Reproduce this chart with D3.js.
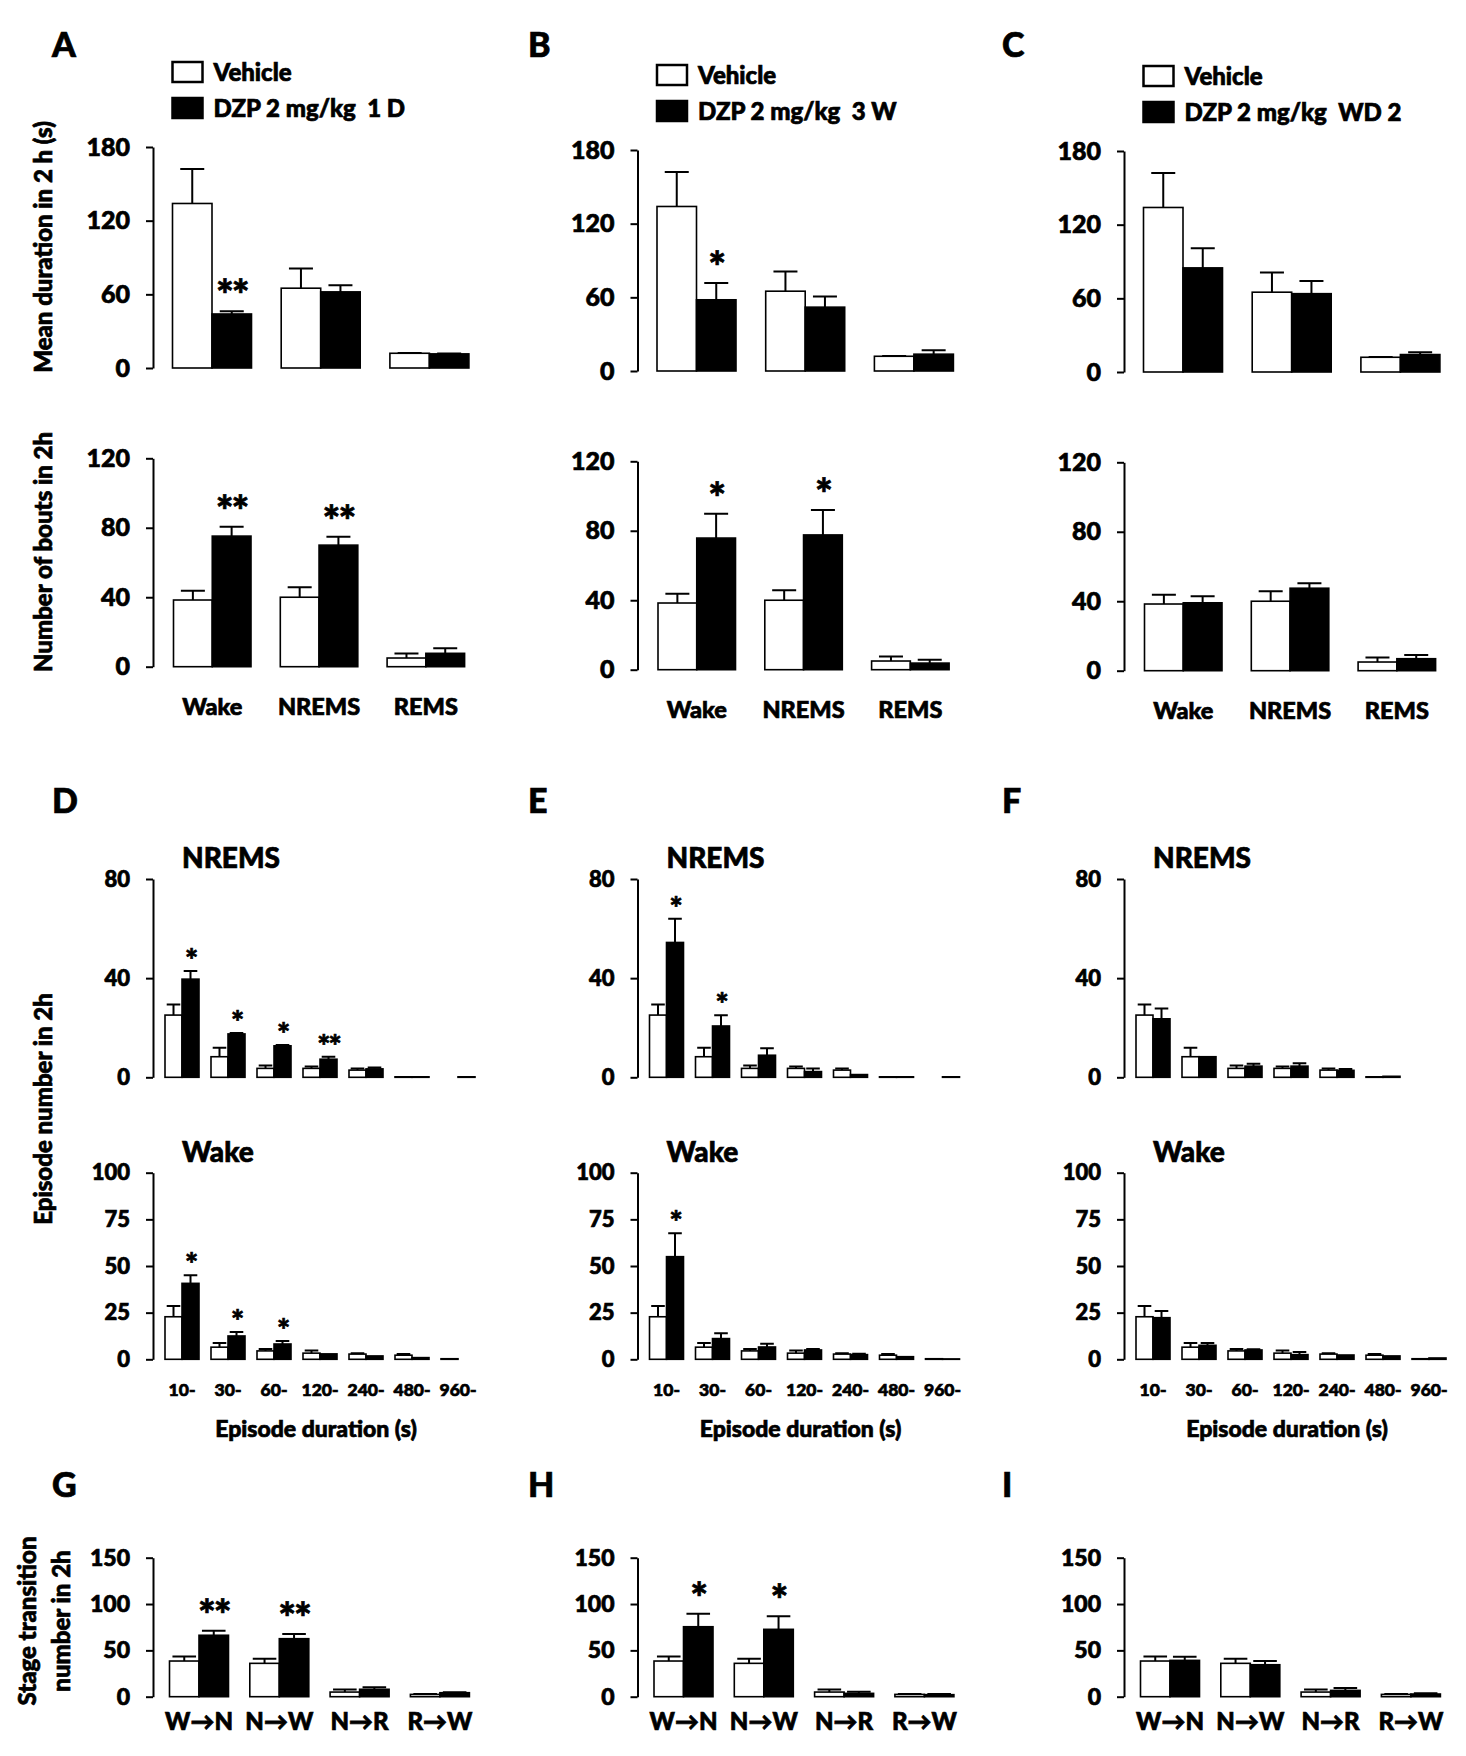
<!DOCTYPE html>
<html>
<head>
<meta charset="utf-8">
<script src="https://cdn.jsdelivr.net/npm/d3@7"></script>
<style>
  body { margin: 0; background: #fff; }
  text { font-family: Lato, "Open Sans", sans-serif; font-weight: 900; stroke: #000; stroke-width: 0.7px; }
</style>
</head>
<body>
<div id="chart"></div>
<script>
// Categories
const stages = ["Wake", "NREMS", "REMS"];
const durBins = ["10-", "30-", "60-", "120-", "240-", "480-", "960-"];
const transitions = ["W→N", "N→W", "N→R", "R→W"];
const groupNames = ["Vehicle", "DZP"];
const dzpLabels = ["DZP 2 mg/kg  1 D", "DZP 2 mg/kg  3 W", "DZP 2 mg/kg  WD 2"];
const panelLetters = [["A", "B", "C"], ["D", "E", "F"], ["G", "H", "I"]];

// Mean duration in 2 h (s)
const durVeh = [134, 65, 12], durVehSem = [28, 16, 0.3];
const durDzp1D = [44, 62, 11.5], durDzp1DSem = [2.3, 5.5, 0.3];
const durDzp3W = [58, 52, 13.7], durDzp3WSem = [13.6, 8.7, 3.3];
const durDzpWD2 = [84.8, 63.8, 14.2], durDzpWD2Sem = [16, 10.3, 1.9];

// Number of bouts in 2h
const boutsVeh = [38.4, 40, 5], boutsVehSem = [5.3, 5.8, 2.6];
const boutsDzp1D = [75.2, 70, 7.7], boutsDzp1DSem = [5.4, 4.8, 2.9];
const boutsDzp3W = [75.8, 77.6, 3.8], boutsDzp3WSem = [14, 14.3, 2];
const boutsDzpWD2 = [39.1, 47.5, 6.9], boutsDzpWD2Sem = [3.7, 2.9, 2.2];

// NREMS episode number by duration
const nremsVeh = [25.1, 8.3, 3.6, 3.6, 2.9, 0.2, null], nremsVehSem = [4.3, 3.6, 1.2, 0.8, 0.7, 0, 0];
const nremsDzp1D = [39.6, 17.5, 12.7, 7.3, 3.4, 0.2, 0.2], nremsDzp1DSem = [3.3, 0.4, 0.3, 1.0, 0.6, 0, 0];
const nremsDzp3W = [54.4, 20.7, 8.9, 2.3, 1.1, 0.2, 0.2], nremsDzp3WSem = [9.6, 4.3, 2.8, 1.3, 0, 0, 0];
const nremsDzpWD2 = [23.6, 8.3, 4.5, 4.5, 2.8, 0.4, null], nremsDzpWD2Sem = [4.2, 0.2, 1.0, 1.2, 0.5, 0, 0];

// Wake episode number by duration
const wakeVeh = [22.8, 6.5, 4.5, 3.3, 2.8, 2.2, 0.3], wakeVehSem = [5.7, 2.2, 1.0, 1.4, 0.5, 0.6, 0];
const wakeDzp1D = [40.7, 12.5, 8.2, 2.9, 1.8, 0.9, null], wakeDzp1DSem = [4.3, 2.1, 1.6, 0, 0, 0, 0];
const wakeDzp3W = [55, 11.1, 6.6, 5, 2.5, 1.4, 0.2], wakeDzp3WSem = [12.5, 2.8, 1.8, 0.5, 0.5, 0, 0];
const wakeDzpWD2 = [22.3, 7.5, 5, 2.5, 2.3, 1.8, 0.7], wakeDzpWD2Sem = [3.6, 1.3, 0.4, 1.4, 0.2, 0.2, 0];

// Stage transition number in 2h
const transVeh = [38.5, 36, 5, 2.5], transVehSem = [5, 5, 2.7, 0.5];
const transDzp1D = [66.3, 62.6, 8, 4.3], transDzp1DSem = [5, 5.1, 2.1, 0.6];
const transDzp3W = [75.5, 72.7, 3.6, 2.2], transDzp3WSem = [14.1, 14, 1.8, 0.7];
const transDzpWD2 = [39.2, 34.5, 6.8, 2.9], transDzpWD2Sem = [3.8, 4, 2.6, 0.7];

// Significance marks over the DZP bars
const durStars = [["**", "", ""], ["*", "", ""], ["", "", ""]];
const boutsStars = [["**", "**", ""], ["*", "*", ""], ["", "", ""]];
const nremsStars = [["*", "*", "*", "**", "", "", ""], ["*", "*", "", "", "", "", ""], ["", "", "", "", "", "", ""]];
const wakeStars = [["*", "*", "*", "", "", "", ""], ["*", "", "", "", "", "", ""], ["", "", "", "", "", "", ""]];
const transStars = [["**", "**", "", ""], ["*", "*", "", ""], ["", "", "", ""]];

// Layout
const axisX = [153, 637.5, 1124];
const topDy = [0, 3, 4];

const svg = d3.select("#chart")
  .append("svg")
    .attr("width", 1466)
    .attr("height", 1756);

const rows = [
  {cats: stages, y0: 368, y1: 147, max: 180, ticks: [0, 60, 120, 180], off: 19.5, step: 108.7, pair: 79,
   shift: true, tickFont: 25, starFont: 42, starGap: 1,
   veh: [durVeh, durVehSem], dzp: [[durDzp1D, durDzp1DSem], [durDzp3W, durDzp3WSem], [durDzpWD2, durDzpWD2Sem]], stars: durStars},
  {cats: stages, y0: 666.7, y1: 458.3, max: 120, ticks: [0, 40, 80, 120], off: 20.5, step: 106.8, pair: 77.5,
   shift: true, tickFont: 25, starFont: 42, starGap: 1, labels: {font: 23.5, dy: 48.5},
   veh: [boutsVeh, boutsVehSem], dzp: [[boutsDzp1D, boutsDzp1DSem], [boutsDzp3W, boutsDzp3WSem], [boutsDzpWD2, boutsDzpWD2Sem]], stars: boutsStars},
  {cats: durBins, y0: 1077.3, y1: 879, max: 80, ticks: [0, 40, 80], off: 12, step: 46, pair: 34,
   tickFont: 22, starFont: 31, starGap: 0, title: "NREMS",
   veh: [nremsVeh, nremsVehSem], dzp: [[nremsDzp1D, nremsDzp1DSem], [nremsDzp3W, nremsDzp3WSem], [nremsDzpWD2, nremsDzpWD2Sem]], stars: nremsStars},
  {cats: durBins, y0: 1359.3, y1: 1172.7, max: 100, ticks: [0, 25, 50, 75, 100], off: 12, step: 46, pair: 34,
   tickFont: 22, starFont: 31, starGap: 0, title: "Wake", labels: {font: 17.5, dy: 36.7},
   xTitle: "Episode duration (s)",
   veh: [wakeVeh, wakeVehSem], dzp: [[wakeDzp1D, wakeDzp1DSem], [wakeDzp3W, wakeDzp3WSem], [wakeDzpWD2, wakeDzpWD2Sem]], stars: wakeStars},
  {cats: transitions, y0: 1696.7, y1: 1557.7, max: 150, ticks: [0, 50, 100, 150], off: 16.5, step: 80.3, pair: 59,
   tickFont: 23, starFont: 42, starGap: 1, labels: {font: 24, dy: 33.3},
   veh: [transVeh, transVehSem], dzp: [[transDzp1D, transDzp1DSem], [transDzp3W, transDzp3WSem], [transDzpWD2, transDzpWD2Sem]], stars: transStars}
];

function drawPanel(row, col) {
  const ax = axisX[col];
  const dy = row.shift ? topDy[col] : 0;
  const g = svg.append("g");

  const y = d3.scaleLinear()
    .domain([0, row.max])
    .range([row.y0 + dy, row.y1 + dy]);

  // group bands, first pair starts row.off px right of the axis
  const pad = (row.step - row.pair) / row.step;
  const r0 = ax + row.off - (row.step - row.pair) / 2;
  const x = d3.scaleBand()
    .domain(row.cats)
    .range([r0, r0 + row.cats.length * row.step])
    .paddingInner(pad)
    .paddingOuter(pad / 2);
  const xs = d3.scaleBand().domain(groupNames).range([0, x.bandwidth()]);

  // Y axis
  g.append("g")
      .attr("transform", `translate(${ax},0)`)
      .call(d3.axisLeft(y).tickValues(row.ticks).tickSize(7).tickSizeOuter(0).tickPadding(16))
      .attr("font-family", null)
      .attr("font-size", null)
      .call(a => a.select(".domain").attr("stroke-width", 2))
      .call(a => a.selectAll(".tick line").attr("stroke-width", 2))
      .call(a => a.selectAll(".tick text").style("font-size", row.tickFont + "px").attr("fill", "#000"));

  const series = [
    {name: "Vehicle", v: row.veh[0], e: row.veh[1], fill: "#fff"},
    {name: "DZP", v: row.dzp[col][0], e: row.dzp[col][1], fill: "#000"}
  ];

  series.forEach(s => {
    const data = row.cats.map((c, i) => ({c: c, v: s.v[i], e: s.e[i]})).filter(d => d.v != null);
    const bw = xs.bandwidth();

    g.selectAll(null)
      .data(data)
      .join("rect")
        .attr("x", d => x(d.c) + xs(s.name))
        .attr("width", bw)
        .attr("y", d => y(d.v))
        .attr("height", d => y(0) - y(d.v))
        .attr("fill", s.fill)
        .attr("stroke", "#000")
        .attr("stroke-width", 1.6);

    // error bars (upper half only)
    const cap = Math.min(12, bw * 0.4);
    g.selectAll(null)
      .data(data.filter(d => d.e > 0.25))
      .join("path")
        .attr("d", d => {
          const cx = x(d.c) + xs(s.name) + bw / 2;
          return `M${cx},${y(d.v)}V${y(d.v + d.e)}M${cx - cap},${y(d.v + d.e)}H${cx + cap}`;
        })
        .attr("fill", "none")
        .attr("stroke", "#000")
        .attr("stroke-width", 2);
  });

  // stars over DZP bars
  const dz = row.dzp[col];
  g.selectAll(null)
    .data(row.cats.map((c, i) => ({c: c, s: row.stars[col][i], top: dz[0][i] + dz[1][i]})).filter(d => d.s))
    .join("text")
      .attr("x", d => x(d.c) + xs("DZP") + xs.bandwidth() / 2)
      .attr("y", d => y(d.top) - row.starGap)
      .attr("text-anchor", "middle")
      .style("font-size", row.starFont + "px")
      .style("letter-spacing", "-2px")
      .text(d => d.s);

  // category labels
  if (row.labels) {
    g.selectAll(null)
      .data(row.cats)
      .join("text")
        .attr("x", d => x(d) + x.bandwidth() / 2)
        .attr("y", y(0) + row.labels.dy)
        .attr("text-anchor", "middle")
        .style("font-size", row.labels.font + "px")
        .text(d => d);
  }

  if (row.title) {
    g.append("text")
      .attr("x", ax + 29)
      .attr("y", y(row.max) - 11)
      .style("font-size", "28px")
      .text(row.title);
  }

  if (row.xTitle) {
    const [a, b] = x.range();
    g.append("text")
      .attr("x", (a + b) / 2 - 4)
      .attr("y", y(0) + 77.7)
      .attr("text-anchor", "middle")
      .style("font-size", "23px")
      .text(row.xTitle);
  }
}

rows.forEach(row => [0, 1, 2].forEach(col => drawPanel(row, col)));

// Legends
[0, 1, 2].forEach(col => {
  const bx = axisX[col] + 19.5, by = 62 + topDy[col];
  const lg = svg.append("g");
  [["Vehicle", "#fff", 0], [dzpLabels[col], "#000", 36]].forEach(([label, fill, off]) => {
    lg.append("rect")
      .attr("x", bx).attr("y", by + off)
      .attr("width", 30).attr("height", 20)
      .attr("fill", fill).attr("stroke", "#000").attr("stroke-width", 2.5);
    lg.append("text")
      .attr("x", bx + 41).attr("y", by + off + 19)
      .style("font-size", "24px")
      .style("white-space", "pre")
      .text(label);
  });
});

// Panel letters
const letterX = [52, 528, 1002], letterY = [57, 813, 1497];
panelLetters.forEach((r, i) => r.forEach((l, j) => {
  svg.append("text")
    .attr("x", letterX[j]).attr("y", letterY[i])
    .style("font-size", "34px")
    .text(l);
}));

// Y axis titles
function yTitle(label, cy, bx) {
  svg.append("text")
    .attr("transform", `translate(${bx},${cy}) rotate(-90)`)
    .attr("text-anchor", "middle")
    .style("font-size", "24px")
    .text(label);
}
yTitle("Mean duration in 2 h (s)", 247, 52);
yTitle("Number of bouts in 2h", 552, 52);
yTitle("Episode number in 2h", 1109, 52);
yTitle("Stage transition", 1621, 36);
yTitle("number in 2h", 1621, 70);
</script>
</body>
</html>
